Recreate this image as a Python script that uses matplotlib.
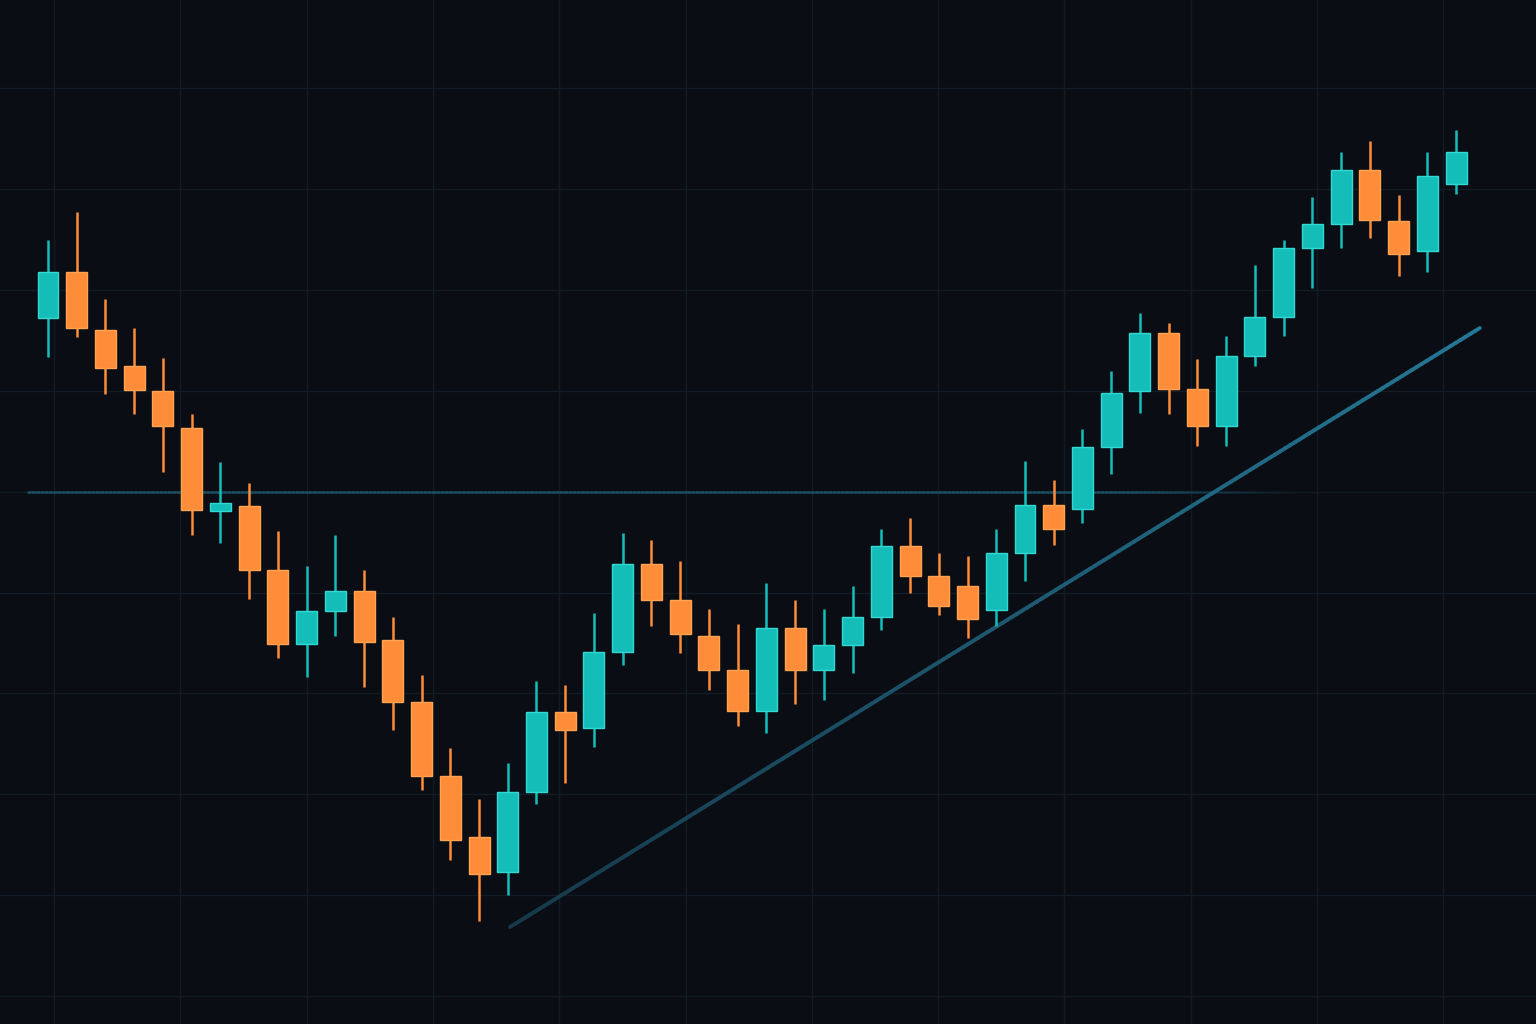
import numpy as np
import matplotlib
matplotlib.use("Agg")
import matplotlib.pyplot as plt
from matplotlib.collections import LineCollection

# ---- data (OHLC) ----
opens  = [168.2,172.8,167.0,163.4,160.9,157.2,148.9,149.4,143.0,135.6,
          138.9,140.9,136.0,129.8,122.4,116.3,112.8,120.8,128.8,127.2,
          134.8,143.6,140.0,136.4,133.0,128.9,137.2,133.0,135.5,138.3,
          145.4,142.4,141.4,139.0,144.7,149.5,149.1,155.3,160.9,166.7,
          161.1,157.4,164.4,168.3,175.2,177.6,183.0,177.9,174.9,181.6]
highs  = [176.0,178.8,170.1,167.2,164.2,158.6,153.8,151.7,146.9,143.4,
          146.5,143.0,138.3,132.5,125.2,120.1,123.7,131.9,131.5,138.7,
          146.7,146.0,143.9,139.1,137.6,141.7,140.0,139.1,141.4,147.1,
          148.2,144.7,144.4,147.1,153.9,152.0,157.1,162.9,168.7,167.7,
          164.1,166.4,173.5,176.0,180.3,184.8,185.9,180.5,184.8,187.0]
lows   = [164.3,166.3,160.6,158.6,152.8,146.5,145.7,140.1,134.2,132.3,
          136.4,131.3,127.0,121.0,114.0,107.9,110.5,119.6,121.7,125.3,
          133.5,137.4,134.7,131.0,127.4,126.7,129.6,130.0,132.7,137.0,
          140.7,138.5,136.2,137.4,141.9,145.5,147.7,152.6,158.7,158.6,
          155.4,155.4,163.4,166.4,171.2,175.2,176.2,172.4,172.8,180.6]
closes = [172.8,167.2,163.2,161.0,157.4,149.0,149.7,143.0,135.6,138.9,
          140.9,135.8,129.8,122.4,116.0,112.6,120.8,128.8,127.0,134.8,
          143.6,140.0,136.6,133.0,128.9,137.2,133.0,135.5,138.3,145.4,
          142.4,139.4,138.1,144.7,149.5,147.1,155.3,160.7,166.7,161.1,
          157.4,164.4,168.3,175.2,177.6,183.0,178.0,174.6,182.4,184.8]

resistance_level = 150.8
trend_x = [16.08, 49.83]
trend_y = [107.3, 167.2]

# ---- style ----
BG = "#0a0e14"
GRID = "#131c26"
UP, UP_EDGE = "#14bdb8", "#34d8d2"
DN, DN_EDGE = "#ff8c38", "#ffa352"
LINE = "#1f6a84"

fig = plt.figure(figsize=(15.36, 10.24), dpi=100, facecolor=BG)
ax = fig.add_axes([0, 0, 1, 1])
ax.set_facecolor(BG)

xlim = (-48 / 28.735, (1536 - 48) / 28.735)
ylim = (200 - 102.4, 200.0)
ax.set_xlim(*xlim)
ax.set_ylim(*ylim)

# grid
xt = np.arange(6 / 28.735, xlim[1], 126.3 / 28.735)
yt = np.arange(200 - 8.8, ylim[0], -10.09)
for v in xt:
    ax.axvline(v, color=GRID, lw=1.0, zorder=0)
for v in yt:
    ax.axhline(v, color=GRID, lw=1.0, zorder=0)

# resistance line with fade on the right
xs = np.linspace(27 / 28.735 - 48 / 28.735, 1300 / 28.735 - 48 / 28.735, 300)
segs = [[(xs[i], resistance_level), (xs[i + 1], resistance_level)] for i in range(len(xs) - 1)]
px = xs[:-1] * 28.735 + 48
alphas = np.clip((1290 - px) / 160, 0, 1) * 0.85
cols = [matplotlib.colors.to_rgba("#1c5c72", a) for a in alphas]
ax.add_collection(LineCollection(segs, colors=cols, linewidths=1.8, zorder=1))

# trend line with slight gradient
tx = np.linspace(trend_x[0], trend_x[1], 200)
ty = np.interp(tx, trend_x, trend_y)
tsegs = [[(tx[i], ty[i]), (tx[i + 1], ty[i + 1])] for i in range(len(tx) - 1)]
c0 = np.array(matplotlib.colors.to_rgb("#16394a"))
c1 = np.array(matplotlib.colors.to_rgb("#2477950"[:7]))
tcols = [tuple(c0 + (c1 - c0) * f) for f in np.linspace(0, 1, len(tsegs))]
ax.add_collection(LineCollection(tsegs, colors=tcols, linewidths=2.8,
                                 capstyle="round", zorder=1))

# candles
x = np.arange(len(opens))
o = np.array(opens); c = np.array(closes)
h = np.array(highs); l = np.array(lows)
up = c >= o
colors = np.where(up, UP, DN)
edges = np.where(up, UP_EDGE, DN_EDGE)
ax.vlines(x, l, h, colors=colors, linewidth=1.8, zorder=2)
bottoms = np.minimum(o, c)
heights = np.maximum(np.abs(c - o), 0.6)
ax.bar(x, heights, bottom=bottoms, width=0.73, color=colors,
       edgecolor=edges, linewidth=1.0, zorder=3)

ax.set_xticks([]); ax.set_yticks([])
for s in ax.spines.values():
    s.set_visible(False)

fig.savefig("out.png", dpi=100, facecolor=BG)
